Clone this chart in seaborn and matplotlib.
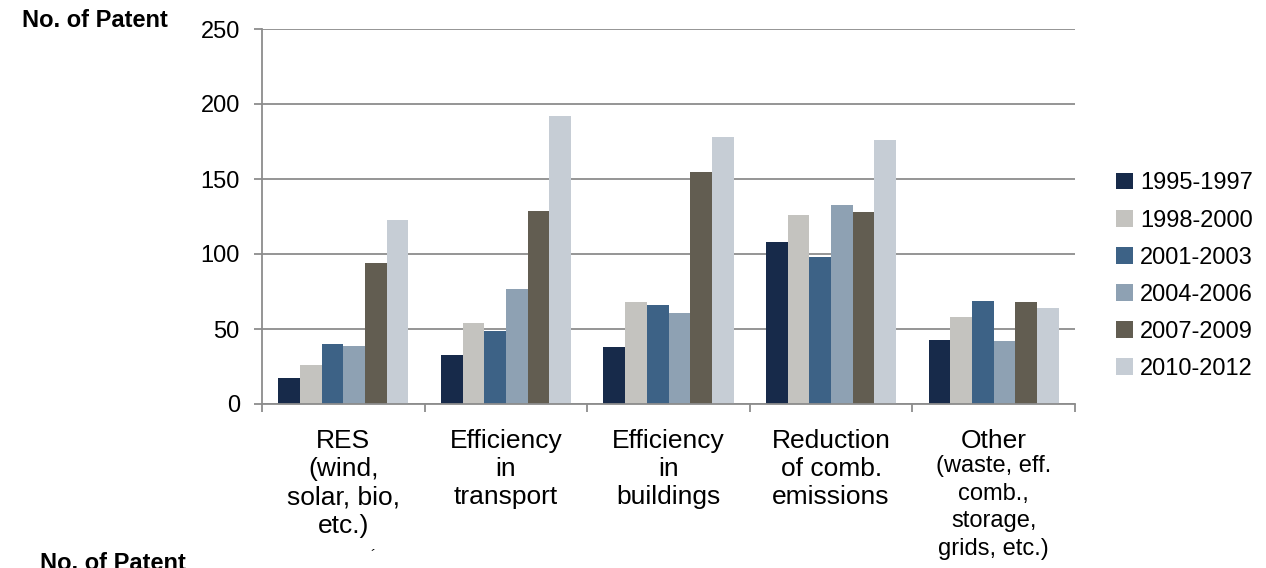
import matplotlib
matplotlib.use("Agg")
import matplotlib.pyplot as plt
import matplotlib.transforms as mtransforms
import pandas as pd
import seaborn as sns

categories = ["RES", "Efficiency in transport", "Efficiency in buildings",
              "Reduction of comb. emissions", "Other"]
tick_labels = ["RES\n(wind,\nsolar, bio,\netc.)", "Efficiency\nin\ntransport",
               "Efficiency\nin\nbuildings", "Reduction\nof comb.\nemissions", "Other"]
other_note = "(waste, eff.\ncomb.,\nstorage,\ngrids, etc.)"
periods = ["1995-1997", "1998-2000", "2001-2003", "2004-2006", "2007-2009", "2010-2012"]
colors = ["#172a4a", "#c4c3bf", "#3d6286", "#8ea1b3", "#625d51", "#c6cdd5"]

p1995 = [17.5, 33, 38, 108, 43]
p1998 = [26, 54, 68, 126, 58]
p2001 = [40, 49, 66, 98, 69]
p2004 = [39, 77, 61, 133, 42]
p2007 = [94, 129, 155, 128, 68]
p2010 = [123, 192, 178, 176, 64]

series = [p1995, p1998, p2001, p2004, p2007, p2010]
df = pd.DataFrame([
    {"category": c, "period": p, "value": v}
    for p, vals in zip(periods, series)
    for c, v in zip(categories, vals)
])

sns.set_theme(style="white", rc={"text.color": "black", "xtick.color": "black",
                                 "ytick.color": "black"})
plt.rcParams["font.family"] = ["Liberation Sans", "DejaVu Sans"]

fig = plt.figure(figsize=(12.66, 5.68), dpi=100)
ax = fig.add_axes([262 / 1266, 1 - 404 / 568, (1075 - 262) / 1266, (404 - 29) / 568])

sns.barplot(data=df, x="category", y="value", hue="period", order=categories,
            hue_order=periods, palette=colors, width=0.8, linewidth=0,
            saturation=1, ax=ax)

grey = "#8c8c8c"
ax.set_ylim(0, 250)
ax.set_xlim(-0.5, len(categories) - 0.5)
ax.set_yticks(range(0, 251, 50))
ax.yaxis.grid(True, color=grey, linewidth=1.3)
ax.set_axisbelow(True)
for side in ["top", "right"]:
    ax.spines[side].set_visible(False)
for side in ["left", "bottom"]:
    ax.spines[side].set_color(grey)
    ax.spines[side].set_linewidth(1.3)

ax.tick_params(axis="y", which="major", left=True, length=6, width=1.3,
               color=grey, labelcolor="black", labelsize=17, pad=10)
ax.set_xticks(range(len(categories)))
ax.set_xticklabels(tick_labels, fontsize=19, linespacing=1.22, color="black")
ax.set_xticks([i - 0.5 for i in range(len(categories) + 1)], minor=True)
ax.tick_params(axis="x", which="major", length=0, pad=18)
ax.tick_params(axis="x", which="minor", bottom=True, length=6, width=1.3, color=grey)
ax.set_xlabel("")
ax.set_ylabel("")

trans = mtransforms.blended_transform_factory(ax.transData, fig.transFigure)
ax.text(len(categories) - 1, 1 - 455 / 568, other_note, transform=trans,
        ha="center", va="top", fontsize=17, linespacing=1.33, color="black")

fig.text(22 / 1266, 1 - 9 / 568, "No. of Patent", fontsize=17, fontweight="bold",
         ha="left", va="top")
fig.text(40 / 1266, 1 - 552 / 568, "No. of Patent", fontsize=17, fontweight="bold",
         ha="left", va="top")
fig.text(373 / 1266, 1 - 549 / 568, "\u00b4", fontsize=11, ha="center", va="top")

handles, labels = ax.get_legend_handles_labels()
ax.legend(handles, labels, loc="upper left",
          bbox_to_anchor=((1107 - 262) / 813, 1 - (163 - 29) / 375),
          frameon=False, fontsize=17, handlelength=0.7, handleheight=0.7,
          handletextpad=0.3, labelspacing=0.64, borderaxespad=0)

fig.savefig("out.png", dpi=100)
